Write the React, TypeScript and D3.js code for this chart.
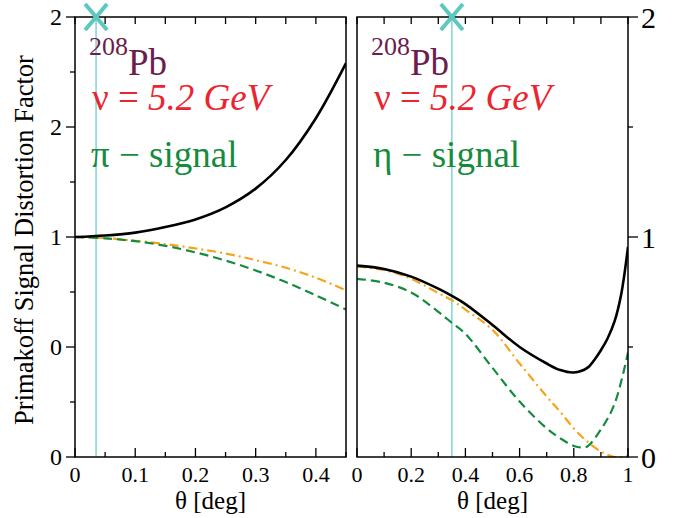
import React from "react";
import * as d3 from "d3";

// ---------- data ----------
const leftTheta = [0, 0.05, 0.1, 0.15, 0.2, 0.25, 0.3, 0.35, 0.4, 0.45];
const leftTotal = [1.0, 1.007, 1.02, 1.045, 1.08, 1.135, 1.22, 1.35, 1.54, 1.79];
const leftCoulomb = [1.0, 0.995, 0.983, 0.968, 0.948, 0.925, 0.895, 0.86, 0.815, 0.758];
const leftNuclear = [1.0, 0.994, 0.981, 0.96, 0.93, 0.893, 0.848, 0.795, 0.735, 0.67];

const rightThetaTotal = [0, 0.1, 0.2, 0.3, 0.35, 0.4, 0.5, 0.6, 0.7, 0.75, 0.8, 0.85, 0.875, 0.9, 0.925, 0.95, 0.975, 1.0];
const rightTotal = [0.87, 0.855, 0.82, 0.765, 0.732, 0.695, 0.6, 0.5, 0.425, 0.395, 0.384, 0.405, 0.44, 0.485, 0.54, 0.615, 0.74, 0.955];
const rightThetaCoulomb = [0, 0.1, 0.2, 0.3, 0.35, 0.4, 0.5, 0.6, 0.7, 0.75, 0.8, 0.85, 0.9, 0.95, 1.0];
const rightCoulomb = [0.865, 0.85, 0.81, 0.745, 0.713, 0.67, 0.578, 0.425, 0.275, 0.205, 0.13, 0.07, 0.025, 0.0, 0.005];
const rightThetaNuclear = [0, 0.1, 0.2, 0.3, 0.35, 0.4, 0.5, 0.6, 0.7, 0.75, 0.8, 0.83, 0.85, 0.9, 0.95, 1.0];
const rightNuclear = [0.81, 0.792, 0.748, 0.66, 0.61, 0.56, 0.405, 0.252, 0.13, 0.085, 0.05, 0.043, 0.048, 0.125, 0.24, 0.475];

const leftMarkerTheta = 0.035;
const rightMarkerTheta = 0.35;

const leftXMajor = [0, 0.1, 0.2, 0.3, 0.4];
const leftXMinor = [0.05, 0.15, 0.25, 0.35, 0.45];
const leftXLabels = ["0", "0.1", "0.2", "0.3", "0.4"];
const rightXMajor = [0, 0.2, 0.4, 0.6, 0.8, 1];
const rightXMinor = [0.1, 0.3, 0.5, 0.7, 0.9];
const rightXLabels = ["0", "0.2", "0.4", "0.6", "0.8", "1"];
const leftYMajor = [0, 0.5, 1, 1.5, 2];
const leftYMinor = [0.25, 0.75, 1.25, 1.75];
const leftYLabels = ["0", "0", "1", "2", "2"];
const rightYMajor = [0, 1, 2];
const rightYMinor = [0.5, 1.5];
const rightYLabels = ["0", "1", "2"];

// ---------- layout ----------
const W = 681, H = 518;
const TOP = 17, BOTTOM = 457;
const FONT = "Liberation Serif, Times New Roman, Times, DejaVu Serif, serif";
const C_BLACK = "#000";
const C_ORANGE = "#f7a41d";
const C_GREEN = "#148c3e";
const C_PURPLE = "#6b1d4f";
const C_RED = "#ea2530";
const C_CYAN = "#8ad6d8";
const C_X = "#5cc8be";

const y = d3.scaleLinear().domain([0, 2]).range([BOTTOM, TOP]);
const xL = d3.scaleLinear().domain([0, 0.45]).range([75, 346]);
const xR = d3.scaleLinear().domain([0, 1]).range([357, 628]);

function path(x: d3.ScaleLinear<number, number>, th: number[], v: number[]) {
  const pts = th.map((t, i) => [t, v[i]] as [number, number]);
  return d3
    .line<[number, number]>()
    .x((d) => x(d[0]))
    .y((d) => y(d[1]))
    .curve(d3.curveCatmullRom.alpha(0.5))(pts) as string;
}

function Panel(props: {
  id: string;
  x: d3.ScaleLinear<number, number>;
  curves: { th: number[]; v: number[]; color: string; dash?: string; w: number }[];
  marker: number;
  xMajor: number[];
  xMinor: number[];
  xLabels: string[];
  signal: string;
}) {
  const { id, x, curves, marker, xMajor, xMinor, xLabels, signal } = props;
  const [x0, x1] = x.range();
  const xm = x(marker);
  return (
    <g>
      <defs>
        <clipPath id={id}>
          <rect x={x0} y={TOP} width={x1 - x0} height={BOTTOM - TOP} />
        </clipPath>
      </defs>
      <line x1={xm} x2={xm} y1={TOP} y2={BOTTOM} stroke={C_CYAN} strokeWidth={1.6} />
      <g clipPath={`url(#${id})`}>
        {curves.map((c, i) => (
          <path key={i} d={path(x, c.th, c.v)} fill="none" stroke={c.color} strokeWidth={c.w} strokeDasharray={c.dash} />
        ))}
      </g>
      <rect x={x0} y={TOP} width={x1 - x0} height={BOTTOM - TOP} fill="none" stroke="#000" strokeWidth={1.5} />
      {[...xMajor, ...xMinor].map((t, i) => (
        <line key={"t" + i} x1={x(t)} x2={x(t)} y1={TOP} y2={TOP + 7} stroke="#000" strokeWidth={1.3} />
      ))}
      {xMajor.map((t, i) => (
        <line key={"bM" + i} x1={x(t)} x2={x(t)} y1={BOTTOM} y2={BOTTOM - 9} stroke="#000" strokeWidth={1.3} />
      ))}
      {xMinor.map((t, i) => (
        <line key={"bm" + i} x1={x(t)} x2={x(t)} y1={BOTTOM} y2={BOTTOM - 5} stroke="#000" strokeWidth={1.3} />
      ))}
      {xLabels.map((l, i) => (
        <text key={"xl" + i} x={x(xMajor[i])} y={482} textAnchor="middle" fontSize={22}>
          {l}
        </text>
      ))}
      <text x={(x0 + x1) / 2} y={509} textAnchor="middle" fontSize={25}>
        θ [deg]
      </text>
      <g stroke={C_X} strokeWidth={4} strokeLinecap="butt">
        <line x1={xm - 11} y1={TOP - 13} x2={xm + 11} y2={TOP + 13} />
        <line x1={xm - 11} y1={TOP + 13} x2={xm + 11} y2={TOP - 13} />
      </g>
      <text x={x0 + 14} y={55} fontSize={26} fill={C_PURPLE}>
        208
      </text>
      <text x={x0 + 53} y={75} fontSize={37} fill={C_PURPLE}>
        Pb
      </text>
      <text x={x0 + 17} y={110} fontSize={37} fill={C_RED}>
        ν = <tspan fontStyle="italic">5.2 GeV</tspan>
      </text>
      <text x={x0 + 16} y={167} fontSize={37} fill={C_GREEN}>
        {signal}
      </text>
    </g>
  );
}

export default function App() {
  return (
    <svg width={W} height={H} style={{ position: "absolute", left: 0, top: 0, background: "#fff", fontFamily: FONT }}>
      <Panel
        id="clipL"
        x={xL}
        marker={leftMarkerTheta}
        xMajor={leftXMajor}
        xMinor={leftXMinor}
        xLabels={leftXLabels}
        signal="π − signal"
        curves={[
          { th: leftTheta, v: leftCoulomb, color: C_ORANGE, dash: "9,4,2,4", w: 2.2 },
          { th: leftTheta, v: leftNuclear, color: C_GREEN, dash: "9,5", w: 2.2 },
          { th: leftTheta, v: leftTotal, color: C_BLACK, w: 2.6 },
        ]}
      />
      <Panel
        id="clipR"
        x={xR}
        marker={rightMarkerTheta}
        xMajor={rightXMajor}
        xMinor={rightXMinor}
        xLabels={rightXLabels}
        signal="η − signal"
        curves={[
          { th: rightThetaCoulomb, v: rightCoulomb, color: C_ORANGE, dash: "9,4,2,4", w: 2.2 },
          { th: rightThetaNuclear, v: rightNuclear, color: C_GREEN, dash: "9,5", w: 2.2 },
          { th: rightThetaTotal, v: rightTotal, color: C_BLACK, w: 2.6 },
        ]}
      />
      {leftYMajor.map((v, i) => (
        <g key={"ly" + i}>
          <line x1={66} x2={75} y1={y(v)} y2={y(v)} stroke="#000" strokeWidth={1.3} />
          <text x={62} y={y(v)} dy="0.35em" textAnchor="end" fontSize={24}>
            {leftYLabels[i]}
          </text>
        </g>
      ))}
      {leftYMinor.map((v, i) => (
        <line key={"lym" + i} x1={70} x2={75} y1={y(v)} y2={y(v)} stroke="#000" strokeWidth={1.3} />
      ))}
      {rightYMajor.map((v, i) => (
        <g key={"ry" + i}>
          <line x1={628} x2={638} y1={y(v)} y2={y(v)} stroke="#000" strokeWidth={1.3} />
          <text x={641} y={y(v)} dy="0.35em" textAnchor="start" fontSize={30}>
            {rightYLabels[i]}
          </text>
        </g>
      ))}
      {rightYMinor.map((v, i) => (
        <line key={"rym" + i} x1={628} x2={633} y1={y(v)} y2={y(v)} stroke="#000" strokeWidth={1.3} />
      ))}
      <text transform={`translate(33,240) rotate(-90)`} textAnchor="middle" fontSize={26.5}>
        Primakoff Signal Distortion Factor
      </text>
    </svg>
  );
}
